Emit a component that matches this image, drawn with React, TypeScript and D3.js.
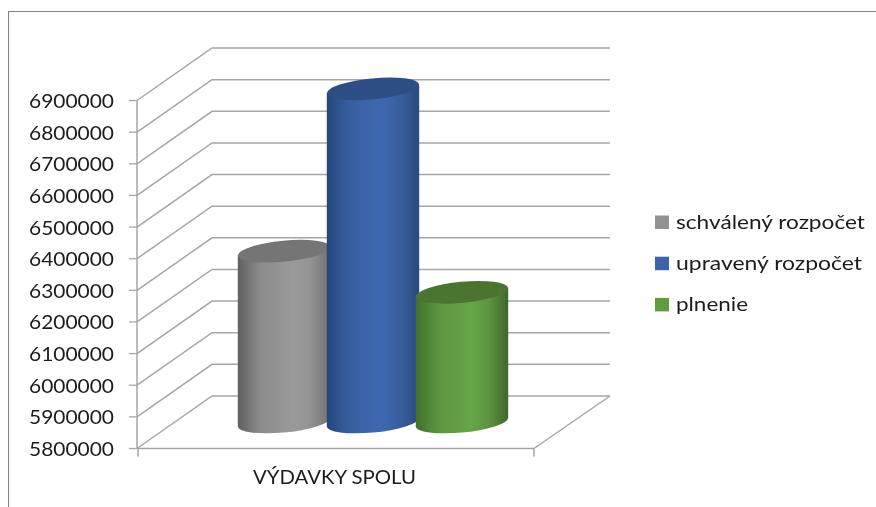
import React from 'react';
import { scaleLinear, scalePoint, range } from 'd3';

const series = ['schválený rozpočet', 'upravený rozpočet', 'plnenie'];
const values = [6340000, 6853000, 6210000];
const tickValues = range(5800000, 6900001, 100000);
const category = 'VÝDAVKY SPOLU';

const sideStops = [
    ['#606060', '#8c8c8c', '#9a9a9a', '#939393', '#707070'],
    ['#26467c', '#38609f', '#3e68b2', '#38609f', '#2a4a7c'],
    ['#41702a', '#5d9640', '#66a547', '#5d9640', '#3f672a'],
];
const topColors = ['#747474', '#2e4f85', '#4b752e'];
const legendColors = ['#929292', '#3c64ad', '#619b42'];
const stopOffsets = ['0%', '25%', '60%', '78%', '100%'];
const legendWidths = [189, 186, 72];

const grid = '#a6a6a6';
const font = 'Lato, Carlito, sans-serif';

// front plane of the 3d box, back wall is shifted by depth
const yScale = scaleLinear().domain([5800000, 6900000]).range([448.5, 100.5]);
const xScale = scalePoint().domain(series).range([284, 462]);
const depthX = 75;
const depthY = 52.5;
const frontLeft = 137;
const frontRight = 534;
const barBaseShift = 26.5;

// tilted ellipse for the cylinder caps
const rx = 46.3;
const ry = 10.5;
const tilt = -5.5;
const tangent = 4.2;

function Cylinder({ index }: { index: number }) {
    const name = series[index];
    const cx = xScale(name) as number;
    const top = yScale(values[index]) - barBaseShift;
    const base = yScale(5800000) - barBaseShift;
    const r = 46.2;
    const body = `M${cx - r},${top + tangent} L${cx - r},${base + tangent} A${rx},${ry} ${tilt} 0 0 ${cx + r},${base - tangent} L${cx + r},${top - tangent} Z`;
    return (
        <g>
            <path d={body} fill={`url(#side${index})`} />
            <ellipse
                cx={cx}
                cy={top}
                rx={rx}
                ry={ry}
                fill={topColors[index]}
                transform={`rotate(${tilt} ${cx} ${top})`}
            />
        </g>
    );
}

export default function App() {
    return (
        <svg
            width={876}
            height={507}
            style={{ position: 'absolute', left: 0, top: 0, background: '#fff' }}
        >
            <defs>
                {sideStops.map((stops, i) => (
                    <linearGradient key={i} id={`side${i}`} x1="0" x2="1" y1="0" y2="0">
                        {stops.map((c, j) => (
                            <stop key={j} offset={stopOffsets[j]} stopColor={c} />
                        ))}
                    </linearGradient>
                ))}
                <filter id="soft" x="0" y="0" width="100%" height="100%">
                    <feGaussianBlur stdDeviation="0.45" />
                </filter>
            </defs>
            <g filter="url(#soft)">
                <path d="M8.5,507 L8.5,11.5 L876,11.5" fill="none" stroke="#868686" strokeWidth={1.2} />

                {tickValues.map((t) => {
                    const y = yScale(t);
                    return (
                        <g key={t}>
                            <path
                                d={`M${frontLeft},${y} L${frontLeft + depthX},${y - depthY} L610,${y - depthY}`}
                                fill="none"
                                stroke={grid}
                                strokeWidth={1.5}
                            />
                            <line x1={129} x2={frontLeft} y1={y} y2={y} stroke={grid} strokeWidth={1.3} />
                            <text
                                x={114}
                                y={y + 7.5}
                                textAnchor="end"
                                fontFamily={font}
                                fontSize={19}
                                fill="#1c1c1c"
                                textLength={85}
                                lengthAdjust="spacingAndGlyphs"
                            >
                                {t}
                            </text>
                        </g>
                    );
                })}

                <line x1={frontLeft} x2={frontLeft} y1={yScale(6900000)} y2={yScale(5800000)} stroke={grid} strokeWidth={1.5} />
                <path
                    d={`M${frontLeft + 1},${yScale(5800000) + 8} L${frontLeft + 1},${yScale(5800000)} L${frontRight},${yScale(5800000)} L${frontRight},${yScale(5800000) + 8} M${frontRight},${yScale(5800000)} L${frontRight + 76},${yScale(5800000) - depthY}`}
                    fill="none"
                    stroke={grid}
                    strokeWidth={1.5}
                />

                {series.map((_, i) => (
                    <Cylinder key={i} index={i} />
                ))}

                <text
                    x={253}
                    y={484}
                    fontFamily={font}
                    fontSize={19}
                    fill="#1c1c1c"
                    textLength={163}
                    lengthAdjust="spacingAndGlyphs"
                >
                    {category}
                </text>

                {series.map((name, i) => (
                    <g key={name}>
                        <rect x={655} y={215.5 + i * 41.2} width={14} height={13.5} fill={legendColors[i]} />
                        <text
                            x={676}
                            y={228.5 + i * 41.2}
                            fontFamily={font}
                            fontSize={20}
                            fill="#1c1c1c"
                            textLength={legendWidths[i]}
                            lengthAdjust="spacingAndGlyphs"
                        >
                            {name}
                        </text>
                    </g>
                ))}
            </g>
        </svg>
    );
}
